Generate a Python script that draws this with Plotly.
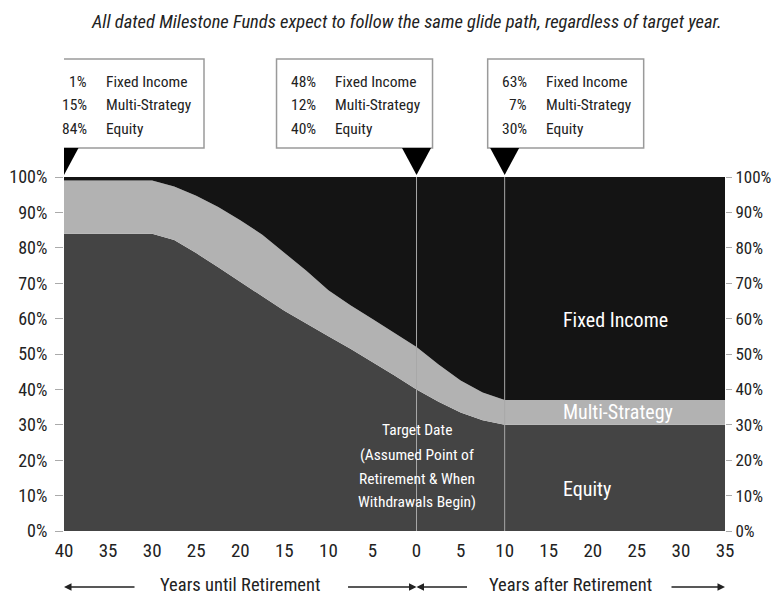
import plotly.graph_objects as go

# ---- data ----
years = [-40, -30, -27.5, -25, -22.5, -20, -17.5, -15, -12.5, -10, -7.5, -5, -2.5, 0, 2.5, 5, 7.5, 10, 35]
equity = [84, 84, 82.2, 78.5, 74.5, 70.3, 66.3, 62.2, 58.5, 55, 51.5, 47.8, 43.9, 40, 36.5, 33.5, 31.3, 30, 30]
multi = [15, 15, 15.1, 16.2, 17, 17.5, 17.4, 16.5, 15, 13, 12.3, 12.1, 12, 12, 10.5, 9, 7.8, 7, 7]
fixed = [round(100 - e - m, 2) for e, m in zip(equity, multi)]

x_ticks = list(range(-40, 36, 5))
x_ticktext = [str(abs(v)) for v in x_ticks]
y_ticks = list(range(0, 101, 10))
y_ticktext = [f"{v}%" for v in y_ticks]

box_years = [-40, 0, 10]
box_fixed = [1, 48, 63]
box_multi = [15, 12, 7]
box_equity = [84, 40, 30]

target_lines = ["Target Date", "(Assumed Point of", "Retirement &amp; When", "Withdrawals Begin)"]

FONT = "Roboto Condensed, Liberation Sans Narrow, sans-serif"
TXT = "#222222"
C_EQ = "#444444"
C_MS = "#b2b2b2"
C_FI = "#141414"

fig = go.Figure()
fig.add_trace(go.Scatter(x=years, y=equity, name="Equity", mode="lines", stackgroup="one",
                         line=dict(width=0, color=C_EQ), fillcolor=C_EQ, hoverinfo="skip"))
fig.add_trace(go.Scatter(x=years, y=multi, name="Multi-Strategy", mode="lines", stackgroup="one",
                         line=dict(width=0, color=C_MS), fillcolor=C_MS, hoverinfo="skip"))
fig.add_trace(go.Scatter(x=years, y=fixed, name="Fixed Income", mode="lines", stackgroup="one",
                         line=dict(width=0, color=C_FI), fillcolor=C_FI, hoverinfo="skip"))
# invisible trace to carry the right axis
fig.add_trace(go.Scatter(x=[years[0]], y=[0], yaxis="y2", mode="markers",
                         marker=dict(opacity=0), showlegend=False, hoverinfo="skip"))

# vertical guide lines
for xv in [0, 10]:
    fig.add_shape(type="line", xref="x", yref="y", x0=xv, x1=xv, y0=0, y1=100,
                  line=dict(color="#a8a8a8", width=1), layer="above")

# callout boxes + triangles
box_offsets = [(-16, 140), (-140, 16), (-17, 139)]
for i, xv in enumerate(box_years):
    x0, x1 = box_offsets[i]
    fig.add_shape(type="rect", xref="x", yref="paper", xsizemode="pixel", xanchor=xv,
                  x0=x0, x1=x1, y0=1.082, y1=1.333,
                  line=dict(color="#9a9a9a", width=1.5), fillcolor="white")
    fig.add_shape(type="path", xref="x", yref="paper", xsizemode="pixel", ysizemode="pixel",
                  xanchor=xv, yanchor=1, path="M-14.5,29 L14.5,29 L0,2 Z",
                  line=dict(width=0), fillcolor="black")
    rows = [(box_fixed[i], "Fixed Income", 1.269),
            (box_multi[i], "Multi-Strategy", 1.203),
            (box_equity[i], "Equity", 1.136)]
    for val, lab, yy in rows:
        fig.add_annotation(x=xv, y=yy, xref="x", yref="paper", text=f"{val}%",
                           xanchor="right", yanchor="middle", xshift=x0 + 41, showarrow=False,
                           font=dict(family=FONT, size=15.5, color=TXT))
        fig.add_annotation(x=xv, y=yy, xref="x", yref="paper", text=lab,
                           xanchor="left", yanchor="middle", xshift=x0 + 56, showarrow=False,
                           font=dict(family=FONT, size=15.5, color=TXT))

# in-chart labels
for lab, yv in [("Fixed Income", 59.6), ("Multi-Strategy", 33.6), ("Equity", 11.9)]:
    fig.add_annotation(x=16.4, y=yv, xref="x", yref="y", text=lab, xanchor="left", yanchor="middle",
                       showarrow=False, font=dict(family=FONT, size=20, color="white"))

for line, yv in zip(target_lines, [28.5, 21.5, 14.8, 8.1]):
    fig.add_annotation(x=0, y=yv, xref="x", yref="y", text=line,
                       showarrow=False, xanchor="center", yanchor="middle",
                       font=dict(family=FONT, size=15.5, color="white"))

# title
fig.add_annotation(x=0.518, y=1.438, xref="paper", yref="paper",
                   text="<i>All dated Milestone Funds expect to follow the same glide path, regardless of target year.</i>",
                   showarrow=False, xanchor="center", yanchor="middle",
                   font=dict(family=FONT, size=18.5, color=TXT))

# bottom axis titles with arrows
fig.add_annotation(x=-20, y=-0.153, xref="x", yref="paper", text="Years until Retirement",
                   showarrow=False, xanchor="center", yanchor="middle",
                   font=dict(family=FONT, size=18.5, color=TXT))
fig.add_annotation(x=17.5, y=-0.153, xref="x", yref="paper", text="Years after Retirement",
                   showarrow=False, xanchor="center", yanchor="middle",
                   font=dict(family=FONT, size=18.5, color=TXT))

arrow_y = -0.158
# (head x in data units, tail offset in pixels)
arrows = [(-40, 72), (0, -70), (0, 52), (35, -55)]
for hx, ax in arrows:
    fig.add_annotation(x=hx, y=arrow_y, xref="x", yref="paper", ax=ax, ay=0, text="",
                       showarrow=True, arrowhead=2, arrowsize=1, arrowwidth=1.5,
                       arrowcolor=TXT)

fig.update_layout(
    width=772, height=591,
    margin=dict(l=56, r=55, t=169, b=68),
    paper_bgcolor="white", plot_bgcolor="white",
    showlegend=False,
    font=dict(family=FONT, size=18, color=TXT),
    xaxis=dict(range=[-40, 35], tickvals=x_ticks, ticktext=x_ticktext, showgrid=False,
               zeroline=False, showline=False, ticks="", ticklabelstandoff=6, automargin=False,
               tickfont=dict(family=FONT, size=19, color=TXT), fixedrange=True),
    yaxis=dict(range=[0, 100], tickvals=y_ticks, ticktext=y_ticktext, showgrid=False,
               zeroline=False, showline=False, ticks="outside", ticklen=8, tickcolor="#aaaaaa",
               ticklabelstandoff=4, automargin=False,
               tickfont=dict(family=FONT, size=18, color=TXT)),
    yaxis2=dict(range=[0, 100], tickvals=y_ticks, ticktext=y_ticktext, showgrid=False,
                zeroline=False, showline=False, ticks="outside", ticklen=6, tickcolor="#aaaaaa",
                ticklabelstandoff=0, overlaying="y", side="right", automargin=False,
                tickfont=dict(family=FONT, size=17, color=TXT)),
)

fig.write_html("out.html")
